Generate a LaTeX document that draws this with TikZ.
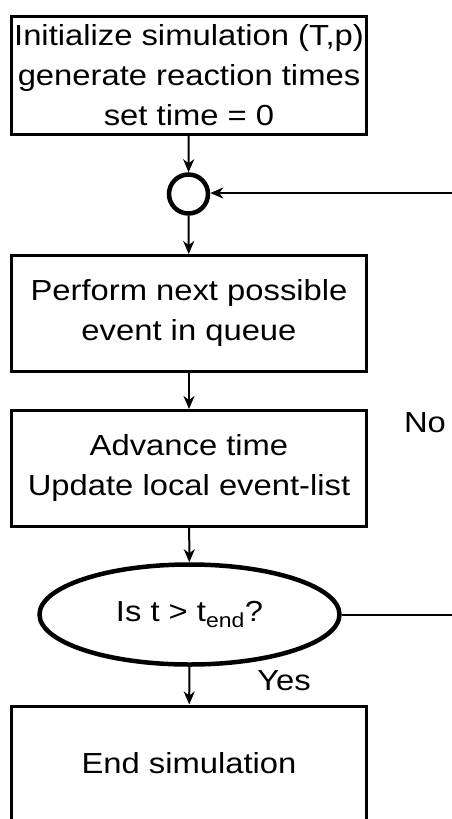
\documentclass[tikz,border=0pt]{standalone}
\usepackage{fontspec}
\setmainfont{Liberation Sans}[FakeStretch=1.13]
\usetikzlibrary{arrows.meta,shapes.geometric}

\begin{document}
\begin{tikzpicture}[x=1pt,y=-1pt,
  box/.style={draw,line width=3pt,minimum width=355pt,minimum height=115.5pt,inner sep=0pt,align=center,anchor=north,font=\fontsize{29}{40}\selectfont},
  flow/.style={line width=2pt,-{Stealth[length=13pt,width=11pt,inset=4pt]}},
  label/.style={font=\fontsize{29}{34}\selectfont,inner sep=0pt}]
\clip (0,0) rectangle (452,819);
% the flow boxes, top to bottom
\node[box,minimum height=118pt] (init) at (189,14.5) {Initialize simulation (T,p)\\generate reaction times\\set time = 0};
\node[draw,circle,line width=4.5pt,minimum size=39pt,inner sep=0pt] (join) at (188.5,194) {};
\node[box] (perform) at (189,254) {Perform next possible\\event in queue};
\node[box] (advance) at (189,409) {Advance time\\Update local event-list};
\node[draw,ellipse,line width=4.5pt,minimum width=300pt,minimum height=100pt,inner sep=0pt,font=\fontsize{29}{34}\selectfont] (test) at (189.5,614.5) {Is t > t\textsubscript{end}?};
\node[box,minimum height=125pt,text depth=12pt] (stop) at (189,704.5) {End simulation};
% yes / no labels
\node[label] (no) at (425,423) {No};
\node[label] (yes) at (284,681) {Yes};
% loop back ends at the right edge
\coordinate (backin) at (452,193);
\coordinate (backout) at (452,614.5);
\draw[flow] (init) -- (join);
\draw[flow] (join) -- (perform);
\draw[flow] (perform) -- (advance);
\draw[flow] (advance) -- (test);
\draw[flow] (test) -- (stop);
\draw[flow] (backin) -- (join.east |- backin);
\draw[line width=2pt] (test.east) -- (backout);
\end{tikzpicture}
\end{document}
